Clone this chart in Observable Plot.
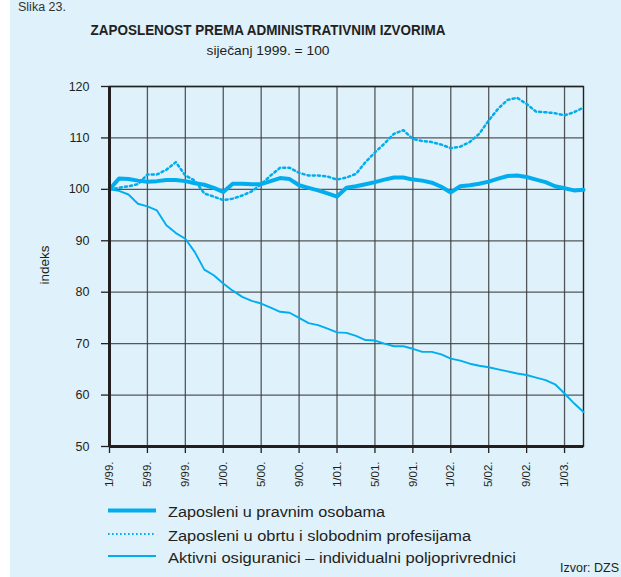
<!DOCTYPE html>
<html>
<head>
<meta charset="utf-8">
<script src="https://cdn.jsdelivr.net/npm/d3@7"></script>
<script src="https://cdn.jsdelivr.net/npm/@observablehq/plot@0.6"></script>
<style>
  html, body { margin: 0; padding: 0; background: white; }
  #chart svg { display: block; }
</style>
</head>
<body>
<div id="chart"></div>
<script>
// ---- data (index, siječanj 1999. = 100), monthly Jan 1999 – Mar 2003 ----
const monthIndex = d3.range(51);
const tickMonths = [0, 4, 8, 12, 16, 20, 24, 28, 32, 36, 40, 44, 48];
const tickLabels = ["1/99.", "5/99.", "9/99.", "1/00.", "5/00.", "9/00.", "1/01.", "5/01.", "9/01.", "1/02.", "5/02.", "9/02.", "1/03."];
const yTicks = [50, 60, 70, 80, 90, 100, 110, 120];

const pravne = [100, 102.1, 102.0, 101.7, 101.5, 101.6, 101.8, 101.8, 101.6, 101.2, 100.9, 100.3, 99.5,
  101.1, 101.1, 101.0, 101.0, 101.6, 102.2, 102.0, 100.8, 100.3, 99.8, 99.2, 98.6,
  100.3, 100.6, 101.0, 101.4, 101.9, 102.3, 102.3, 101.9, 101.7, 101.3, 100.5, 99.4,
  100.6, 100.8, 101.1, 101.5, 102.1, 102.6, 102.7, 102.4, 101.9, 101.4, 100.6, 100.2, 99.8, 99.9];
const obrt = [100, 100.3, 100.6, 101.0, 102.9, 102.9, 103.8, 105.3, 102.7, 101.7, 99.2, 98.6, 97.9,
  98.2, 98.8, 99.6, 101.0, 102.7, 104.2, 104.2, 103.2, 102.7, 102.7, 102.5, 101.9,
  102.3, 103.0, 105.3, 107.2, 108.9, 110.8, 111.5, 109.8, 109.4, 109.2, 108.7, 108.0,
  108.3, 109.2, 110.8, 113.4, 115.7, 117.4, 117.8, 116.6, 115.1, 115.0, 114.8, 114.4, 115.0, 115.9];
const poljo = [100, 99.7, 99.0, 97.2, 96.7, 95.9, 93.0, 91.5, 90.4, 87.8, 84.4, 83.3, 81.7,
  80.3, 79.1, 78.3, 77.8, 77.0, 76.2, 76.0, 75.0, 74.0, 73.6, 72.9, 72.2,
  72.1, 71.5, 70.7, 70.6, 70.0, 69.5, 69.5, 69.0, 68.4, 68.4, 67.9, 67.1,
  66.7, 66.1, 65.7, 65.4, 65.0, 64.6, 64.2, 63.9, 63.4, 62.9, 62.1, 60.3, 58.4, 56.7];

const seriesNames = [
  "Zaposleni u pravnim osobama",
  "Zaposleni u obrtu i slobodnim profesijama",
  "Aktivni osiguranici – individualni poljoprivrednici"
];
const titleText = "ZAPOSLENOST PREMA ADMINISTRATIVNIM IZVORIMA";
const subtitleText = "siječanj 1999. = 100";
const figureText = "Slika 23.";
const yLabel = "indeks";
const sourceText = "Izvor: DZS";

// ---- styling ----
const BLUE = "#00aeef";
const BG = "#dff1fb";
const INK = "#231f20";
const GRID = "#3c3c3c";
const FONT = "'Liberation Sans', Arial, Helvetica, sans-serif";
const DOTS = "2.1,3.1";

const rows = (vals) => monthIndex.map((m, i) => ({m, v: vals[i]}));

const chart = Plot.plot({
  width: 621,
  height: 577,
  marginLeft: 109,
  marginRight: 38,
  marginTop: 86,
  marginBottom: 131,
  style: {background: "white", fontFamily: FONT, fontSize: "12px", color: INK},
  x: {domain: [0, 50], ticks: tickMonths},
  y: {domain: [50, 120], ticks: yTicks},
  marks: [
    Plot.gridX(tickMonths, {stroke: GRID, strokeOpacity: 0.85, strokeWidth: 1.3}),
    Plot.gridY(yTicks, {stroke: GRID, strokeOpacity: 0.85, strokeWidth: 1.3}),
    Plot.frame({stroke: "#222", strokeWidth: 1.4}),
    Plot.axisY(yTicks, {tickSize: 8, tickPadding: 12, stroke: INK, fill: INK, strokeWidth: 1.3, fontSize: 12.5, label: null}),
    Plot.axisX(tickMonths, {tickSize: 7, tickPadding: 8, tickRotate: -90, stroke: INK, fill: INK, strokeWidth: 1.3,
      tickFormat: (d) => tickLabels[tickMonths.indexOf(d)], fontSize: 11.5, label: null}),
    Plot.line(rows(poljo), {x: "m", y: "v", stroke: BLUE, strokeWidth: 1.9}),
    Plot.line(rows(obrt), {x: "m", y: "v", stroke: BLUE, strokeWidth: 2.5, strokeDasharray: DOTS}),
    Plot.line(rows(pravne), {x: "m", y: "v", stroke: BLUE, strokeWidth: 4}),
    Plot.ruleX([0], {stroke: INK, strokeWidth: 3}),
    Plot.ruleY([50], {stroke: INK, strokeWidth: 3})
  ]
});

document.getElementById("chart").appendChild(chart);
const svg = d3.select(chart);

// background panel
svg.insert("rect", ":first-child")
  .attr("x", 10).attr("y", 0).attr("width", 611).attr("height", 577)
  .attr("fill", BG);

const txt = (x, y, s, opts = {}) => {
  const t = svg.append("text")
    .attr("x", x).attr("y", y)
    .attr("fill", opts.fill || INK)
    .attr("font-family", FONT)
    .attr("font-size", opts.size || 13)
    .attr("font-weight", opts.weight || "normal")
    .attr("text-anchor", opts.anchor || "start")
    .text(s);
  if (opts.len) t.attr("textLength", opts.len).attr("lengthAdjust", "spacingAndGlyphs");
  if (opts.rotate) t.attr("transform", `rotate(${opts.rotate},${x},${y})`);
  return t;
};

txt(18, 11, figureText, {size: 12.5, fill: "#333"});
txt(268, 35, titleText, {size: 14.5, weight: "bold", anchor: "middle", len: 355});
txt(268, 55, subtitleText, {size: 13.5, anchor: "middle", len: 123});
txt(49, 265, yLabel, {size: 13.5, anchor: "middle", rotate: -90});

// legend
const legendY = [510.5, 534, 556];
const legendBase = [517, 540.5, 562.5];
const legendStyle = [
  {w: 4, dash: null},
  {w: 2.2, dash: "1.6,2.4"},
  {w: 2, dash: null}
];
const legendLen = [217, 303, 348];
seriesNames.forEach((name, i) => {
  const l = svg.append("line")
    .attr("x1", 108).attr("x2", 156)
    .attr("y1", legendY[i]).attr("y2", legendY[i])
    .attr("stroke", BLUE).attr("stroke-width", legendStyle[i].w);
  if (legendStyle[i].dash) l.attr("stroke-dasharray", legendStyle[i].dash);
  txt(168, legendBase[i], name, {size: 14, len: legendLen[i]});
});

txt(619, 571.5, sourceText, {size: 12.5, anchor: "end"});
</script>
</body>
</html>
